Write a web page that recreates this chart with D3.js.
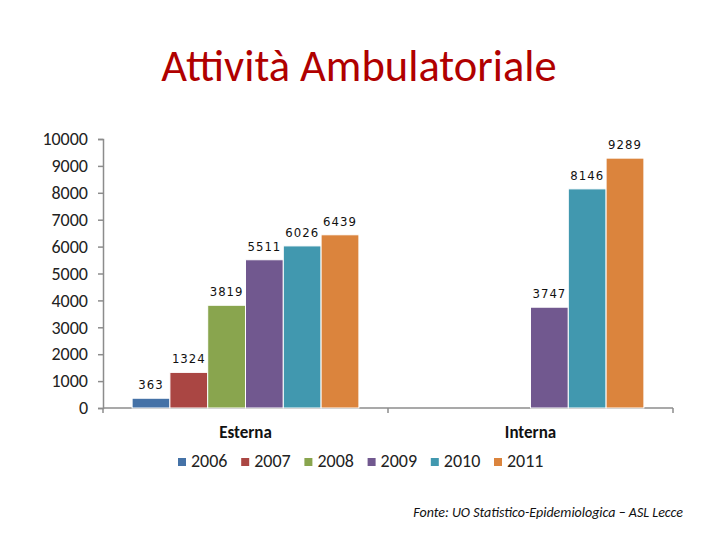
<!DOCTYPE html>
<html>
<head>
<meta charset="utf-8">
<script src="https://cdn.jsdelivr.net/npm/d3@7"></script>
<style>
  body { margin: 0; background: #fff; }
  svg { display: block; }
</style>
</head>
<body>
<svg width="720" height="540"></svg>
<script>
// data
const categories = ["Esterna", "Interna"];
const years = ["2006", "2007", "2008", "2009", "2010", "2011"];
const esterna = [363, 1324, 3819, 5511, 6026, 6439];
const interna = [null, null, null, 3747, 8146, 9289];
const yTicks = [0, 1000, 2000, 3000, 4000, 5000, 6000, 7000, 8000, 9000, 10000];
const colors = ["#4572A7", "#AA4643", "#89A54E", "#71588F", "#4198AF", "#DB843D"];

const svg = d3.select("svg");
const font = "Carlito, 'Liberation Sans', 'DejaVu Sans', sans-serif";

// title
svg.append("text")
  .attr("x", 359).attr("y", 81)
  .attr("text-anchor", "middle")
  .attr("font-family", font)
  .attr("font-size", 44.5)
  .attr("fill", "#B00000")
  .text("Attività Ambulatoriale");

const x0 = d3.scaleBand().domain(categories).range([103, 673]);
const x1 = d3.scaleBand().domain(years).range([0, x0.bandwidth()]).paddingOuter(0.77);
const y = d3.scaleLinear().domain([0, 10000]).range([408, 139]);

// y axis
const yAxis = svg.append("g")
  .attr("transform", "translate(103,0)")
  .call(d3.axisLeft(y).tickValues(yTicks).tickSize(5).tickPadding(10).tickFormat(d3.format("d")));
yAxis.select(".domain").attr("stroke", "#8c8c8c").attr("stroke-width", 1.5);
yAxis.selectAll(".tick line").attr("stroke", "#8c8c8c").attr("stroke-width", 1.5);
yAxis.selectAll("text")
  .attr("font-family", font).attr("font-size", 18).attr("fill", "#222");

// x axis
const xAxis = svg.append("g").attr("transform", "translate(0,408)");
xAxis.append("line").attr("x1", 103).attr("x2", 673).attr("stroke", "#8c8c8c").attr("stroke-width", 1.5);
xAxis.selectAll("line.tk")
  .data([103, 388, 673])
  .enter().append("line")
  .attr("class", "tk")
  .attr("x1", d => d).attr("x2", d => d)
  .attr("y1", 0).attr("y2", 5)
  .attr("stroke", "#8c8c8c").attr("stroke-width", 1.5);

svg.selectAll("text.cat")
  .data(categories)
  .enter().append("text")
  .attr("class", "cat")
  .attr("x", d => x0(d) + x0.bandwidth() / 2)
  .attr("y", 438)
  .attr("text-anchor", "middle")
  .attr("font-family", font)
  .attr("font-size", 17)
  .attr("font-weight", "bold")
  .attr("fill", "#111")
  .text(d => d);

// bars
const rows = [esterna, interna];
const groups = svg.selectAll("g.grp")
  .data(categories)
  .enter().append("g")
  .attr("class", "grp")
  .attr("transform", d => `translate(${x0(d)},0)`);

groups.each(function(cat, ci) {
  const g = d3.select(this);
  const vals = years.map((yr, i) => ({ yr, v: rows[ci][i], c: colors[i] })).filter(d => d.v != null);
  g.selectAll("rect")
    .data(vals)
    .enter().append("rect")
    .attr("x", d => x1(d.yr))
    .attr("y", d => y(d.v))
    .attr("width", x1.bandwidth())
    .attr("height", d => y(0) - y(d.v))
    .attr("fill", d => d.c)
    .attr("stroke", "#fff")
    .attr("stroke-width", 1);
  g.selectAll("text")
    .data(vals)
    .enter().append("text")
    .attr("x", d => x1(d.yr) + x1.bandwidth() / 2)
    .attr("y", d => y(d.v) - 9)
    .attr("text-anchor", "middle")
    .attr("font-family", "'DejaVu Sans Condensed', 'DejaVu Sans', sans-serif")
    .attr("font-size", 13)
    .attr("letter-spacing", 1)
    .attr("fill", "#111")
    .text(d => d.v);
});

// legend
const legend = svg.append("g").attr("transform", "translate(178,467)");
const li = legend.selectAll("g")
  .data(years)
  .enter().append("g")
  .attr("transform", (d, i) => `translate(${i * 63.2},0)`);
li.append("rect")
  .attr("x", 0).attr("y", -9).attr("width", 8).attr("height", 8)
  .attr("fill", (d, i) => colors[i]);
li.append("text")
  .attr("x", 13).attr("y", 0)
  .attr("font-family", font)
  .attr("font-size", 18)
  .attr("fill", "#222")
  .text(d => d);

// source note
svg.append("text")
  .attr("x", 683).attr("y", 517)
  .attr("text-anchor", "end")
  .attr("font-family", font)
  .attr("font-style", "italic")
  .attr("font-size", 14)
  .attr("fill", "#111")
  .text("Fonte: UO Statistico-Epidemiologica – ASL Lecce");
</script>
</body>
</html>
